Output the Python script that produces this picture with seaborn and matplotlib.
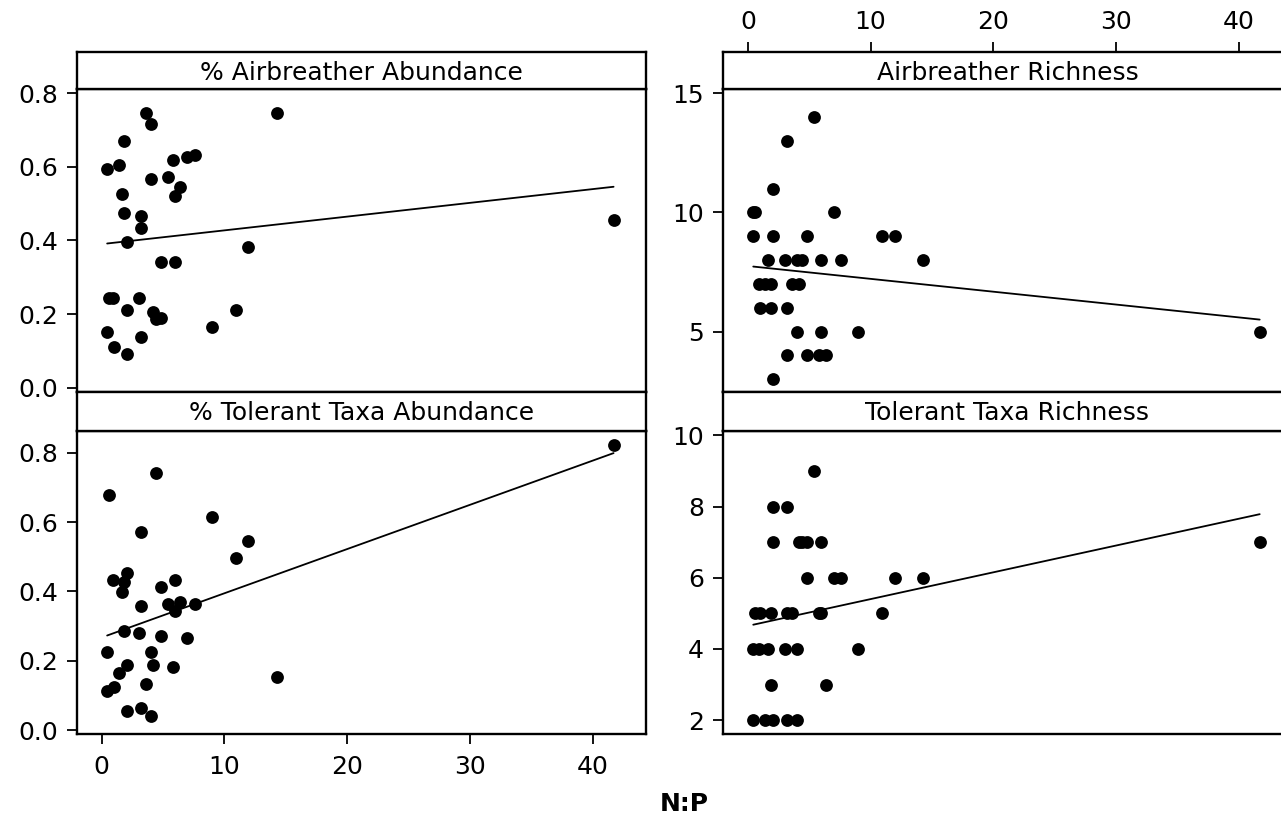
import numpy as np
import pandas as pd
import matplotlib
matplotlib.use("Agg")
import matplotlib.pyplot as plt
import seaborn as sns

# --- data: one N:P value per site, four response variables ---
np_ratio = [0.44, 0.44, 0.62, 0.88, 1.03, 1.43, 1.63, 1.85, 1.85, 2.04,
            2.04, 2.04, 3.0, 3.23, 3.23, 3.23, 3.6, 4.0, 4.0, 4.2,
            4.42, 4.8, 4.8, 5.4, 5.8, 6.0, 6.0, 6.4, 6.98, 7.6,
            8.96, 10.9, 11.95, 14.3, 41.7]

pct_airbreather = [0.593, 0.150, 0.243, 0.243, 0.111, 0.606, 0.526, 0.671, 0.474, 0.395,
                   0.211, 0.092, 0.243, 0.467, 0.435, 0.138, 0.746, 0.718, 0.567, 0.205,
                   0.186, 0.342, 0.190, 0.573, 0.619, 0.520, 0.342, 0.546, 0.626, 0.632,
                   0.165, 0.211, 0.382, 0.746, 0.456]

pct_tolerant = [0.224, 0.112, 0.678, 0.433, 0.125, 0.166, 0.398, 0.426, 0.287, 0.454,
                0.189, 0.055, 0.279, 0.573, 0.357, 0.063, 0.133, 0.224, 0.041, 0.189,
                0.741, 0.413, 0.272, 0.364, 0.181, 0.433, 0.343, 0.370, 0.265, 0.364,
                0.616, 0.497, 0.545, 0.154, 0.822]

airbreather_rich = [10, 9, 10, 7, 6, 7, 8, 7, 6, 11,
                    9, 3, 8, 13, 6, 4, 7, 8, 5, 7,
                    8, 9, 4, 14, 4, 8, 5, 4, 10, 8,
                    5, 9, 9, 8, 5]

tolerant_rich = [4, 2, 5, 4, 5, 2, 4, 5, 3, 8,
                 7, 2, 4, 5, 2, 8, 5, 2, 4, 7,
                 7, 7, 6, 9, 5, 7, 5, 3, 6, 6,
                 4, 5, 6, 6, 7]

titles = ["% Airbreather Abundance", "Airbreather Richness",
          "% Tolerant Taxa Abundance", "Tolerant Taxa Richness"]

df = pd.DataFrame({"np": np_ratio, "pa": pct_airbreather, "pt": pct_tolerant,
                   "ar": airbreather_rich, "tr": tolerant_rich})

sns.set_style("ticks")
plt.rcParams["font.family"] = ["DejaVu Sans"]
plt.rcParams["font.size"] = 18
for k in ["text.color", "axes.labelcolor", "xtick.color", "ytick.color", "axes.edgecolor"]:
    plt.rcParams[k] = "black"

W, H = 1281, 821
fig = plt.figure(figsize=(W / 100, H / 100), dpi=100)


def box(x0, x1, y0, y1):
    # pixel box (top-left origin) -> figure fraction
    return [x0 / W, 1 - y1 / H, (x1 - x0) / W, (y1 - y0) / H]


cols = [(77.2, 645.5), (723.3, 1291.6)]
rows = [((52, 89.3), (89.3, 391.7)), ((391.7, 430.7), (430.7, 734))]
xlim = (-2.0, 44.3)
LW = 1.7

panels = [
    ("pa", (-0.011, 0.811), [0.0, 0.2, 0.4, 0.6, 0.8], "{:.1f}"),
    ("ar", (2.48, 15.16), [5, 10, 15], "{:d}"),
    ("pt", (-0.0115, 0.864), [0.0, 0.2, 0.4, 0.6, 0.8], "{:.1f}"),
    ("tr", (1.61, 10.13), [2, 4, 6, 8, 10], "{:d}"),
]

for i, (col_name, ylim, yticks, fmt) in enumerate(panels):
    r, c = divmod(i, 2)
    (sy0, sy1), (py0, py1) = rows[r]
    x0, x1 = cols[c]

    ax = fig.add_axes(box(x0, x1, py0, py1))
    sns.regplot(data=df, x="np", y=col_name, ax=ax, ci=None, truncate=True,
                scatter_kws={"s": 85, "color": "black", "linewidths": 0, "alpha": 1},
                line_kws={"color": "black", "lw": 1.3})
    ax.set_xlim(xlim)
    ax.set_ylim(ylim)
    ax.set_yticks(yticks)
    ax.set_yticklabels([fmt.format(v) for v in yticks])
    ax.set_xlabel("")
    ax.set_ylabel("")
    for s in ax.spines.values():
        s.set_visible(True)
        s.set_linewidth(LW)
    ax.tick_params(axis="y", length=7, width=1.3, pad=7, labelsize=18)
    if r == 1 and c == 0:
        ax.set_xticks([0, 10, 20, 30, 40])
        ax.tick_params(axis="x", length=7, width=1.3, pad=8, labelsize=18)
    else:
        ax.set_xticks([])

    # strip with the panel title
    sx = fig.add_axes(box(x0, x1, sy0, sy1))
    sx.set_xlim(xlim)
    sx.set_yticks([])
    for s in sx.spines.values():
        s.set_visible(True)
        s.set_linewidth(LW)
    sx.text(0.5, 0.45, titles[i], transform=sx.transAxes, ha="center", va="center",
            fontsize=18)
    if r == 0 and c == 1:
        sx.xaxis.tick_top()
        sx.set_xticks([0, 10, 20, 30, 40])
        sx.tick_params(axis="x", length=7, width=1.3, pad=6, labelsize=18)
    else:
        sx.set_xticks([])

fig.text(684 / W, 1 - 804 / H, "N:P", ha="center", va="center",
         fontsize=18, fontweight="bold")

fig.savefig("out.png", dpi=100)
